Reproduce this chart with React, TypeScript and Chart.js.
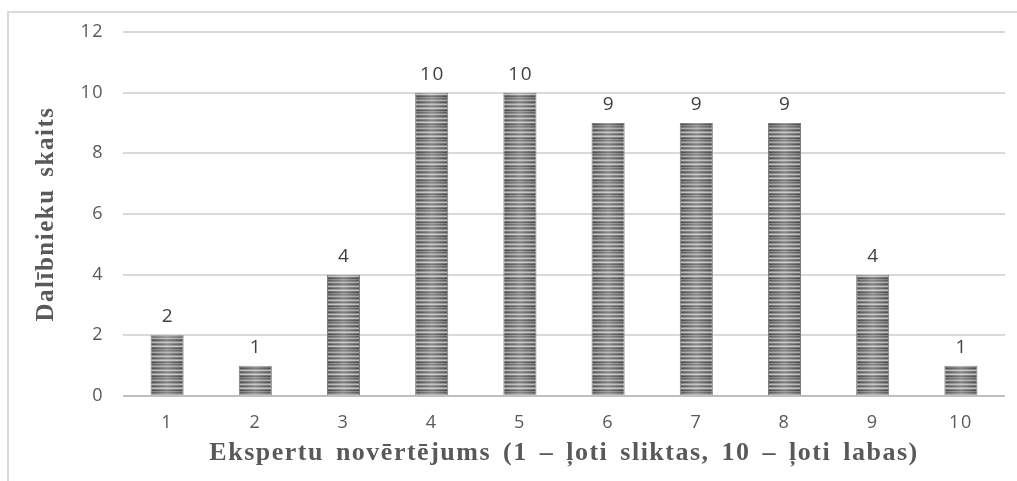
import React, { useEffect, useRef } from "react";
import { Chart, registerables } from "chart.js";

Chart.register(...registerables);

const categories = ["1", "2", "3", "4", "5", "6", "7", "8", "9", "10"];
const participants = [2, 1, 4, 10, 10, 9, 9, 9, 4, 1];
const yTitle = "Dalībnieku skaits";
const xTitle = "Ekspertu novērtējums (1 – ļoti sliktas, 10 – ļoti labas)";

function makeStripePattern(ctx: CanvasRenderingContext2D): CanvasPattern | string {
  const c = document.createElement("canvas");
  const shades = ["#585858", "#767676", "#a2a2a2", "#666666", "#4a4a4a", "#848484", "#b3b3b3", "#707070", "#505050", "#8e8e8e", "#bcbcbc", "#686868", "#464646", "#7e7e7e"];
  c.width = 4;
  c.height = shades.length;
  const p = c.getContext("2d")!;
  shades.forEach((s, i) => {
    p.fillStyle = s;
    p.fillRect(0, i, 4, 1);
  });
  return ctx.createPattern(c, "repeat") || "#888";
}

const spacing = {
  id: "spacing",
  beforeDraw(chart: any) {
    (chart.ctx as any).wordSpacing = "4px";
    (chart.ctx as any).letterSpacing = "1.5px";
  },
  afterDraw(chart: any) {
    (chart.ctx as any).wordSpacing = "0px";
    (chart.ctx as any).letterSpacing = "0px";
  },
};

const valueLabels = {
  id: "valueLabels",
  afterDatasetsDraw(chart: any) {
    const ctx = chart.ctx;
    const meta = chart.getDatasetMeta(0);
    ctx.save();
    ctx.font = "19px 'Open Sans'";
    ctx.fillStyle = "#404040";
    ctx.textAlign = "center";
    ctx.textBaseline = "alphabetic";
    meta.data.forEach((el: any, i: number) => {
      ctx.fillText(String(chart.data.datasets[0].data[i]), el.x + 0.75, el.y - 13);
    });
    ctx.restore();
  },
};

const barShine = {
  id: "barShine",
  afterDatasetsDraw(chart: any) {
    const ctx = chart.ctx;
    const meta = chart.getDatasetMeta(0);
    ctx.save();
    meta.data.forEach((el: any) => {
      const w = el.width;
      const left = el.x - w / 2;
      const g = ctx.createLinearGradient(left, 0, left + w, 0);
      g.addColorStop(0, "rgba(255,255,255,0)");
      g.addColorStop(0.5, "rgba(255,255,255,0.3)");
      g.addColorStop(1, "rgba(255,255,255,0)");
      ctx.fillStyle = g;
      ctx.fillRect(left + 1, el.y, w - 2, el.base - el.y);
    });
    ctx.restore();
  },
};

export default function App() {
  const ref = useRef<HTMLCanvasElement>(null);
  useEffect(() => {
    const canvas = ref.current!;
    const ctx = canvas.getContext("2d")!;
    const pattern = makeStripePattern(ctx);
    const chart = new Chart(canvas, {
      type: "bar",
      data: {
        labels: categories,
        datasets: [
          {
            data: participants,
            backgroundColor: pattern as any,
            borderColor: "#7a7a7a",
            borderWidth: 1,
            categoryPercentage: 1,
            barPercentage: 0.375,
          },
        ],
      },
      plugins: [spacing, barShine, valueLabels],
      options: {
        animation: false,
        responsive: false,
        maintainAspectRatio: false,
        layout: { padding: { left: 0, right: 12, top: 32, bottom: 0 } },
        plugins: { legend: { display: false }, tooltip: { enabled: false } },
        scales: {
          x: {
            grid: { display: false },
            border: { display: false },
            ticks: { color: "#595959", font: { family: "'Open Sans'", size: 18 }, padding: 8 },
            title: {
              display: true,
              text: xTitle,
              color: "#595959",
              font: { family: "'Liberation Serif'", size: 26, weight: "bold" },
              padding: { top: 0, bottom: 12 },
            },
            afterFit: (s: any) => {
              s.height = 85;
            },
          },
          y: {
            min: 0,
            max: 12,
            ticks: { stepSize: 2, color: "#595959", font: { family: "'Open Sans'", size: 18 }, padding: 19 },
            grid: {
              drawTicks: false,
              color: (c: any) => (c.tick && c.tick.value === 0 ? "#bfbfbf" : "#d9d9d9"),
              lineWidth: 2,
            },
            border: { display: false },
            title: {
              display: true,
              text: yTitle,
              color: "#595959",
              font: { family: "'Liberation Serif'", size: 25, weight: "bold" },
              padding: { top: 32, bottom: 0 },
            },
            afterFit: (s: any) => {
              s.width = 123;
            },
          },
        },
      },
    });
    return () => chart.destroy();
  }, []);
  return (
    <div style={{ position: "fixed", left: 0, top: 0, width: 1017, height: 481, background: "#fff" }}>
      <div
        style={{
          position: "absolute",
          left: 7,
          top: 11,
          width: 1010,
          height: 470,
          borderTop: "2px solid #d9d9d9",
          borderLeft: "2px solid #d9d9d9",
        }}
      />
      <canvas ref={ref} width={1017} height={481} style={{ position: "absolute", left: 0, top: 0 }} />
    </div>
  );
}
